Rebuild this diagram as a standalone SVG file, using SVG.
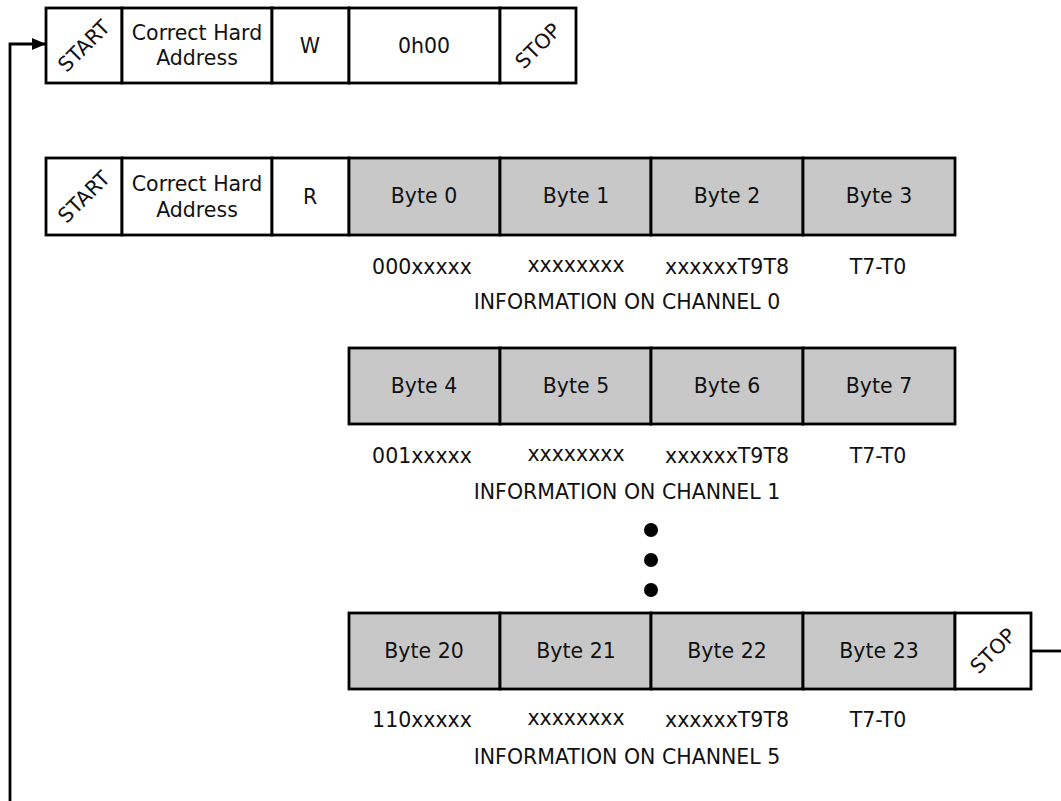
<svg xmlns="http://www.w3.org/2000/svg" width="1061" height="801" viewBox="0 0 1061 801">
<defs>
<marker id="ah" markerWidth="14" markerHeight="12" refX="13" refY="6" orient="auto" markerUnits="userSpaceOnUse">
<path d="M0,0 L14,6 L0,12 Z" fill="#000"/>
</marker>
<style>
.c{fill:#fff;stroke:#000;stroke-width:2.8}
.g{fill:#c8c8c8;stroke:#000;stroke-width:2.8}
text{font-family:"DejaVu Sans",sans-serif;font-size:20.5px;fill:#111;text-anchor:middle;dominant-baseline:central}
.l{fill:none;stroke:#000;stroke-width:2.8}
</style>
</defs>
<rect width="1061" height="801" fill="#fff"/>
<g id="connectors">
<polyline class="l" points="10,801 10,44 45,44" marker-end="url(#ah)"/>
<line class="l" x1="1031" y1="651" x2="1061" y2="651"/>
</g>
<g id="row1">
<rect class="c" x="46" y="8" width="76" height="75"/>
<text transform="translate(84,46) rotate(-45)">START</text>
<rect class="c" x="122" y="8" width="150" height="75"/>
<text x="197" y="33">Correct Hard</text>
<text x="197" y="58">Address</text>
<rect class="c" x="272" y="8" width="77" height="75"/>
<text x="310" y="46">W</text>
<rect class="c" x="349" y="8" width="151" height="75"/>
<text x="424" y="46">0h00</text>
<rect class="c" x="500" y="8" width="76" height="75"/>
<text transform="translate(538,46) rotate(-45)">STOP</text>
</g>
<g id="row2">
<rect class="c" x="46" y="158" width="76" height="77"/>
<text transform="translate(84,197) rotate(-45)">START</text>
<rect class="c" x="122" y="158" width="150" height="77"/>
<text x="197" y="184">Correct Hard</text>
<text x="197" y="210">Address</text>
<rect class="c" x="272" y="158" width="77" height="77"/>
<text x="310" y="197">R</text>
<rect class="g" x="349" y="158" width="151" height="77"/>
<text x="424" y="196">Byte 0</text>
<rect class="g" x="500" y="158" width="151" height="77"/>
<text x="576" y="196">Byte 1</text>
<rect class="g" x="651" y="158" width="152" height="77"/>
<text x="727" y="196">Byte 2</text>
<rect class="g" x="803" y="158" width="152" height="77"/>
<text x="879" y="196">Byte 3</text>
<text x="422" y="267">000xxxxx</text>
<text x="576" y="265">xxxxxxxx</text>
<text x="727" y="267">xxxxxxT9T8</text>
<text x="878" y="267">T7-T0</text>
<text x="627" y="302">INFORMATION ON CHANNEL 0</text>
</g>
<g id="row3">
<rect class="g" x="349" y="348" width="151" height="76"/>
<text x="424" y="386">Byte 4</text>
<rect class="g" x="500" y="348" width="151" height="76"/>
<text x="576" y="386">Byte 5</text>
<rect class="g" x="651" y="348" width="152" height="76"/>
<text x="727" y="386">Byte 6</text>
<rect class="g" x="803" y="348" width="152" height="76"/>
<text x="879" y="386">Byte 7</text>
<text x="422" y="456">001xxxxx</text>
<text x="576" y="454">xxxxxxxx</text>
<text x="727" y="456">xxxxxxT9T8</text>
<text x="878" y="456">T7-T0</text>
<text x="627" y="492">INFORMATION ON CHANNEL 1</text>
</g>
<g id="dots">
<circle cx="651" cy="530" r="7"/>
<circle cx="651" cy="560" r="7"/>
<circle cx="651" cy="590" r="7"/>
</g>
<g id="row4">
<rect class="g" x="349" y="613" width="151" height="76"/>
<text x="424" y="651">Byte 20</text>
<rect class="g" x="500" y="613" width="151" height="76"/>
<text x="576" y="651">Byte 21</text>
<rect class="g" x="651" y="613" width="152" height="76"/>
<text x="727" y="651">Byte 22</text>
<rect class="g" x="803" y="613" width="152" height="76"/>
<text x="879" y="651">Byte 23</text>
<rect class="c" x="955" y="613" width="76" height="76"/>
<text transform="translate(993,651) rotate(-45)">STOP</text>
<text x="422" y="720">110xxxxx</text>
<text x="576" y="718">xxxxxxxx</text>
<text x="727" y="720">xxxxxxT9T8</text>
<text x="878" y="720">T7-T0</text>
<text x="627" y="757">INFORMATION ON CHANNEL 5</text>
</g>
</svg>
